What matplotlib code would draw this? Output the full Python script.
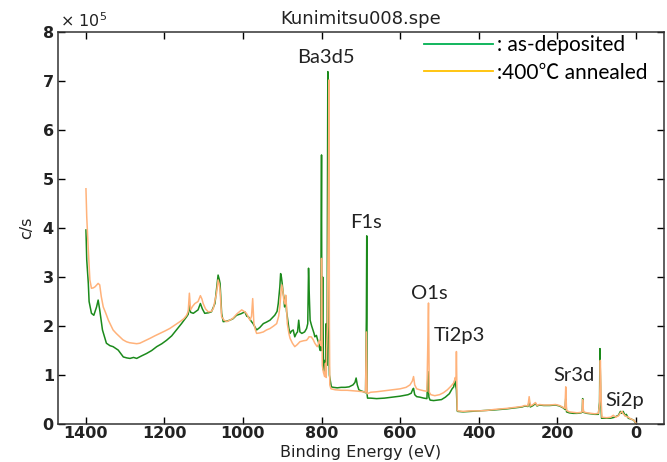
import matplotlib
matplotlib.use("Agg")
import matplotlib.pyplot as plt
from matplotlib.lines import Line2D
import numpy as np

# binding energy (eV) and intensity (x1e5 c/s)
ev_dep = [1399, 1397, 1393, 1391, 1385, 1379, 1372, 1368, 1364, 1357, 1347, 1338, 1330, 1317,
          1304, 1295, 1287, 1278, 1270, 1258, 1245, 1232, 1219, 1206, 1194, 1181, 1169, 1156,
          1143, 1139, 1136, 1133, 1126, 1114, 1108, 1103, 1097, 1088, 1080, 1071, 1065, 1063,
          1060, 1058, 1054, 1050, 1041, 1033, 1025, 1016, 1005, 995, 990, 986, 978, 974, 965,
          957, 948, 940, 931, 925, 919, 913, 910, 906, 904, 902, 900, 898, 896, 894, 891, 889,
          887, 883, 880, 876, 872, 868, 864, 861, 858, 855, 850, 843, 838, 835, 833, 831, 829,
          825, 823, 819, 817, 813, 810, 808, 805, 803, 802, 800, 799, 797, 795, 792, 790, 788,
          786, 784, 782, 780, 777, 775, 770, 760, 750, 740, 730, 720, 715, 712, 709, 705, 700,
          693, 688, 686, 685, 684, 683, 675, 660, 640, 620, 600, 580, 572, 568, 566, 563, 558,
          550, 540, 532, 529, 527, 524, 515, 505, 495, 485, 475, 468, 464, 461, 459, 457, 455,
          454, 440, 420, 398, 380, 360, 330, 310, 290, 283, 275, 272, 269, 262, 256, 252, 246,
          235, 220, 205, 195, 185, 181, 179, 177, 170, 160, 150, 140, 137, 136, 134, 125, 115,
          105, 96, 93, 92, 90, 88, 75, 65, 55, 45, 40, 37, 33, 28, 25, 20, 12, 6, 2, 0]
cps_dep = [3.96, 3.35, 2.87, 2.5, 2.26, 2.22, 2.39, 2.53, 2.33, 1.92, 1.65, 1.6, 1.58, 1.51,
           1.37, 1.35, 1.34, 1.36, 1.34, 1.39, 1.44, 1.5, 1.58, 1.64, 1.71, 1.8, 1.92, 2.05,
           2.19, 2.24, 2.43, 2.28, 2.26, 2.33, 2.46, 2.35, 2.26, 2.27, 2.29, 2.46, 2.9, 3.04,
           2.95, 2.87, 2.26, 2.09, 2.1, 2.12, 2.15, 2.22, 2.25, 2.29, 2.2, 2.19, 2.09, 2.05, 1.92,
           1.97, 2.05, 2.08, 2.12, 2.17, 2.22, 2.3, 2.46, 2.8, 3.07, 3.0, 2.87, 2.7, 2.6, 2.39, 2.6, 2.3,
           2.19, 1.95, 1.85, 1.9, 1.92, 1.78, 1.85, 1.88, 2.12, 1.88, 1.85, 1.88, 1.95, 2.05, 3.18, 2.6, 2.12,
           2.0, 1.95, 1.85, 1.78, 1.81, 1.72, 1.68, 1.55, 1.5, 1.85, 5.49, 1.5, 3.0, 1.1, 1.3, 1.0, 2.05,
           1.2, 7.19, 2.0, 1.0, 0.85, 0.76, 0.75, 0.74, 0.75, 0.75, 0.76, 0.8, 0.85, 0.94, 0.8, 0.7, 0.68,
           0.66, 0.64, 2.16, 3.84, 0.6, 0.53, 0.53, 0.52, 0.53, 0.55, 0.57, 0.6, 0.63, 0.71, 0.73, 0.6, 0.56,
           0.55, 0.53, 0.52, 1.07, 0.55, 0.49, 0.48, 0.49, 0.5, 0.55, 0.62, 0.72, 0.76, 0.9, 0.8, 0.7, 0.27,
           0.26, 0.25, 0.26, 0.27, 0.28, 0.29, 0.31, 0.33, 0.35, 0.37, 0.36, 0.46, 0.35, 0.38, 0.42, 0.37, 0.39,
           0.38, 0.38, 0.39, 0.37, 0.33, 0.3, 0.52, 0.25, 0.23, 0.22, 0.22, 0.23, 0.25, 0.52, 0.24, 0.22, 0.21,
           0.2, 0.2, 0.45, 1.54, 0.5, 0.12, 0.12, 0.12, 0.14, 0.18, 0.26, 0.22, 0.26, 0.17, 0.2, 0.12, 0.1, 0.08, 0.03, 0.0]

ev_ann = [1399, 1397, 1393, 1389, 1385, 1380, 1376, 1368, 1364, 1360, 1355, 1348, 1342, 1336,
          1330, 1322, 1313, 1305, 1296, 1288, 1279, 1270, 1262, 1249, 1236, 1224, 1211, 1198,
          1186, 1173, 1160, 1150, 1143, 1139, 1136, 1133, 1128, 1122, 1114, 1108, 1104, 1101,
          1095, 1088, 1080, 1075, 1067, 1063, 1060, 1058, 1054, 1048, 1041, 1033, 1025, 1015,
          1003, 997, 991, 982, 978, 975, 972, 968, 965, 957, 948, 940, 931, 922, 914, 909, 906,
          903, 901, 898, 896, 893, 891, 889, 887, 883, 880, 874, 868, 862, 855, 846, 838, 834,
          832, 826, 821, 817, 811, 808, 806, 803, 801, 800, 798, 795, 792, 790, 788, 787, 785,
          782, 781, 780, 779, 776, 765, 750, 735, 720, 705, 695, 688, 686, 684, 675, 660, 640,
          620, 600, 585, 575, 569, 566, 563, 558, 550, 540, 532, 530, 528, 526, 522, 512, 500,
          490, 480, 470, 463, 460, 458, 457, 455, 454, 440, 420, 398, 380, 360, 330, 310, 290,
          283, 275, 272, 269, 262, 256, 252, 246, 235, 220, 205, 195, 185, 181, 179, 177, 170,
          160, 150, 140, 137, 136, 134, 125, 115, 105, 96, 93, 91, 89, 87, 75, 65, 58, 52, 45,
          40, 36, 32, 26, 20, 12, 6, 2, -1]
cps_ann = [4.8, 4.23, 3.55, 2.94, 2.77, 2.78, 2.8, 2.87, 2.84, 2.6, 2.39, 2.25, 2.12, 2.02,
           1.92, 1.85, 1.78, 1.72, 1.68, 1.66, 1.65, 1.64, 1.65, 1.7, 1.75, 1.8, 1.85, 1.9,
           1.95, 2.02, 2.09, 2.15, 2.22, 2.3, 2.67, 2.33, 2.4, 2.46, 2.5, 2.62, 2.55, 2.46,
           2.35, 2.29, 2.3, 2.36, 2.67, 2.94, 2.85, 2.73, 2.19, 2.12, 2.09, 2.12, 2.16, 2.25,
           2.33, 2.3, 2.26, 2.12, 2.2, 2.56, 2.05, 1.92, 1.85, 1.86, 1.88, 1.92, 1.95, 2.0, 2.05, 2.2, 2.39,
           2.7, 2.84, 2.7, 2.53, 2.45, 2.63, 2.4, 2.05, 1.85, 1.75, 1.65, 1.58, 1.62, 1.68, 1.7, 1.71, 1.75,
           1.78, 1.78, 1.72, 1.65, 1.58, 1.62, 1.71, 1.65, 1.6, 3.38, 1.2, 1.05, 0.97, 1.24, 0.95, 1.5, 2.0,
           5.25, 7.02, 2.0, 0.8, 0.72, 0.7, 0.69, 0.69, 0.68, 0.67, 0.66, 0.65, 1.88, 0.62, 0.65, 0.66, 0.68,
           0.7, 0.72, 0.75, 0.8, 0.88, 0.97, 0.8, 0.72, 0.7, 0.68, 0.67, 1.51, 2.47, 0.65, 0.6, 0.58, 0.6,
           0.64, 0.7, 0.78, 0.85, 0.95, 0.9, 1.48, 0.3, 0.27, 0.26, 0.27, 0.27, 0.28, 0.3, 0.32, 0.34, 0.36,
           0.38, 0.37, 0.56, 0.37, 0.4, 0.44, 0.38, 0.4, 0.39, 0.39, 0.4, 0.38, 0.34, 0.32, 0.76, 0.28, 0.25,
           0.24, 0.23, 0.24, 0.26, 0.5, 0.25, 0.23, 0.22, 0.21, 0.22, 0.4, 1.3, 0.5, 0.14, 0.13, 0.14, 0.18, 0.14, 0.17,
           0.23, 0.26, 0.2, 0.16, 0.14, 0.1, 0.08, 0.04, 0.0]

peak_names = ["Ba3d5", "F1s", "O1s", "Ti2p3", "Sr3d", "Si2p"]
peak_ev = [790, 686, 526, 450, 157, 28]
peak_y = [7.47, 4.12, 2.67, 1.8, 1.0, 0.49]

x_ticks = [1400, 1200, 1000, 800, 600, 400, 200, 0]
y_ticks = [0, 1, 2, 3, 4, 5, 6, 7, 8]

label_font = ["Lato", "Noto Sans CJK JP", "DejaVu Sans"]

fig = plt.figure(figsize=(6.67, 4.62), dpi=100)
ax = fig.add_axes([0.087, 0.082, 0.908, 0.849])

ax.plot(ev_dep, cps_dep, color="#1b8a1b", lw=1.1)
ax.plot(ev_ann, cps_ann, color="#ffb27a", lw=1.1)

ax.set_xlim(1470, -70)
ax.set_ylim(0, 8)
ax.set_xticks(x_ticks)
ax.set_yticks(y_ticks)
ax.tick_params(direction="in", top=True, right=True, length=5, width=1,
               labelsize=11.5, pad=1.5)
ax.tick_params(axis="y", pad=3)
for lab in ax.get_xticklabels() + ax.get_yticklabels():
    lab.set_fontweight("bold")
    lab.set_color("#222222")
for sp in ax.spines.values():
    sp.set_linewidth(1.1)
    sp.set_color("#333333")

ax.set_xlabel("Binding Energy (eV)", fontsize=11.5, color="#222222")
ax.xaxis.set_label_coords(0.5, -0.053)
ax.set_ylabel("c/s", fontsize=11.5, labelpad=6, color="#222222")
ax.set_title("Kunimitsu008.spe", fontsize=13, pad=6, color="#222222")
ax.text(0.003, 1.005, "\u00d7 10$^5$", transform=ax.transAxes, fontsize=11.5,
        ha="left", va="bottom", color="#222222")

for name, x, y in zip(peak_names, peak_ev, peak_y):
    ax.text(x, y, name, ha="center", va="center", fontsize=14.5, family=label_font,
            color="#222222")

handles = [Line2D([], [], color="#00b050", lw=1.3),
           Line2D([], [], color="#ffc000", lw=1.3)]
ax.legend(handles, [": as-deposited", ":400\u2103 annealed"], loc="upper left",
          bbox_to_anchor=(0.604, 0.992), frameon=False, handlelength=3.3,
          handletextpad=0.2, borderpad=0, borderaxespad=0, labelspacing=0.37,
          prop={"family": label_font, "size": 15})

fig.savefig("out.png", dpi=100)
